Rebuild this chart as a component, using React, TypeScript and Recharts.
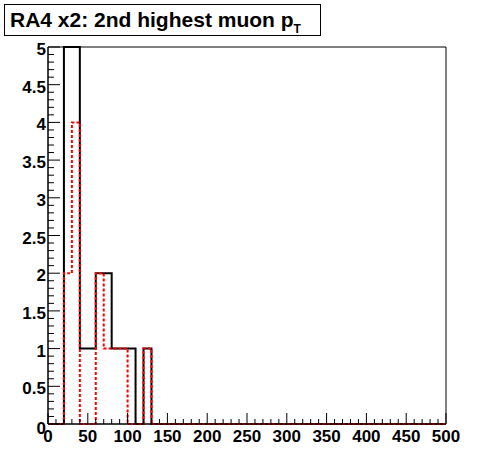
import React from 'react';
import { LineChart, Line, XAxis, YAxis, ReferenceArea } from 'recharts';

// bin edges (GeV), 10 GeV bins from 0 to 500
const binEdges = Array.from({ length: 51 }, (_, i) => i * 10);

// counts per bin (50 bins)
const blackCounts = [
  0, 0, 5, 5, 1, 1, 2, 2, 1, 1,
  1, 0, 1, 0, 0, 0, 0, 0, 0, 0,
  0, 0, 0, 0, 0, 0, 0, 0, 0, 0,
  0, 0, 0, 0, 0, 0, 0, 0, 0, 0,
  0, 0, 0, 0, 0, 0, 0, 0, 0, 0,
];
const redCounts = [
  0, 0, 2, 4, 0, 0, 2, 1, 1, 1,
  0, 0, 1, 0, 0, 0, 0, 0, 0, 0,
  0, 0, 0, 0, 0, 0, 0, 0, 0, 0,
  0, 0, 0, 0, 0, 0, 0, 0, 0, 0,
  0, 0, 0, 0, 0, 0, 0, 0, 0, 0,
];

const xTicks = Array.from({ length: 51 }, (_, i) => i * 10);
const yTicks = Array.from({ length: 51 }, (_, i) => i / 10);

const FONT = '"Liberation Sans", Arial, sans-serif';

// stepAfter needs a closing point at the last edge
const data = binEdges.map((x, i) => ({
  x,
  black: blackCounts[Math.min(i, blackCounts.length - 1)],
  red: redCounts[Math.min(i, redCounts.length - 1)],
}));

const XTick = (props: any) => {
  const { x, y, payload } = props;
  const v = payload.value;
  const major = v % 50 === 0;
  return (
    <g>
      <line x1={x} y1={y} x2={x} y2={y - (major ? 11 : 5)} stroke="#000" strokeWidth={1} />
      {major && (
        <text x={x} y={y + 18} textAnchor="middle" fontFamily={FONT} fontWeight="bold" fontSize={17} fill="#000">
          {v}
        </text>
      )}
    </g>
  );
};

const YTick = (props: any) => {
  const { x, y, payload } = props;
  const v = payload.value;
  const major = Math.round(v * 10) % 5 === 0;
  return (
    <g>
      <line x1={x} y1={y} x2={x + (major ? 12 : 6)} y2={y} stroke="#000" strokeWidth={1} />
      {major && (
        <text x={x - 2} y={y + (v === 0 ? 10 : 8)} textAnchor="end" fontFamily={FONT} fontWeight="bold" fontSize={17} fill="#000">
          {String(v)}
        </text>
      )}
    </g>
  );
};

export default function App() {
  return (
    <div style={{ position: 'absolute', left: 0, top: 0, width: 496, height: 472, background: '#fff' }}>
      <LineChart width={496} height={472} data={data} margin={{ top: 47, right: 50, bottom: 0, left: 0 }}>
        <XAxis
          dataKey="x"
          type="number"
          domain={[0, 500]}
          ticks={xTicks}
          interval={0}
          tickSize={0}
          tickMargin={0}
          height={48}
          axisLine={{ stroke: '#000' }}
          tickLine={false}
          tick={<XTick />}
        />
        <YAxis
          type="number"
          domain={[0, 5]}
          ticks={yTicks}
          interval={0}
          tickSize={0}
          tickMargin={0}
          width={48}
          axisLine={{ stroke: '#000' }}
          tickLine={false}
          tick={<YTick />}
        />
        <ReferenceArea x1={0} x2={500} y1={0} y2={5} fill="none" stroke="#000" strokeWidth={1} />
        <Line type="stepAfter" dataKey="black" stroke="#000" strokeWidth={2} dot={false} isAnimationActive={false} />
        <Line type="stepAfter" dataKey="red" stroke="#ff0000" strokeWidth={2} strokeDasharray="3 2" dot={false} isAnimationActive={false} />
      </LineChart>
      <div
        style={{
          position: 'absolute',
          left: 4,
          top: 4,
          width: 317,
          height: 32,
          boxSizing: 'border-box',
          border: '1px solid #000',
          background: '#fff',
          fontFamily: FONT,
          fontWeight: 'bold',
          fontSize: 21,
          lineHeight: '30px',
          paddingLeft: 5,
          whiteSpace: 'nowrap',
        }}
      >
        RA4 x2: 2nd highest muon p
        <span style={{ fontSize: 12, position: 'relative', top: 6, lineHeight: 0 }}>T</span>
      </div>
    </div>
  );
}
